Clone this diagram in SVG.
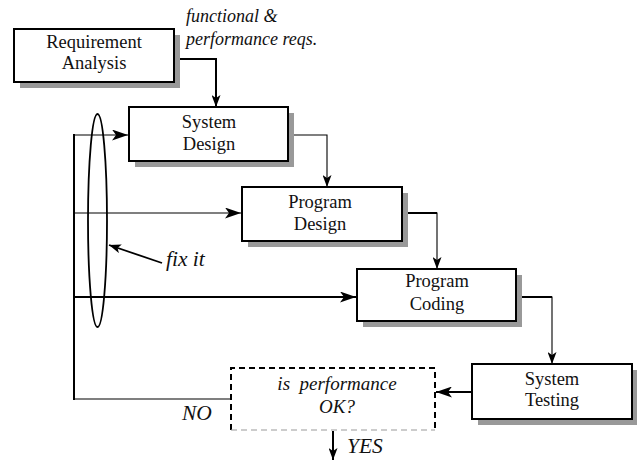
<svg xmlns="http://www.w3.org/2000/svg" width="637" height="461" viewBox="0 0 637 461" font-family="Liberation Serif, Times New Roman, serif">
  <style>
    .box { fill: #ffffff; stroke: #000000; stroke-width: 2; }
    .shadow { fill: #999999; stroke: none; }
    .label { font-size: 18.5px; fill: #111111; text-anchor: middle; }
    .note { font-style: italic; font-size: 18px; fill: #111111; }
    .big { font-size: 21.5px; }
    .thin { fill: none; stroke: #000000; stroke-width: 1.1; }
    .thick { fill: none; stroke: #000000; stroke-width: 2; }
  </style>
  <defs>
    <marker id="head" viewBox="0 0 12 9" refX="12" refY="4.5" markerWidth="12" markerHeight="9" markerUnits="userSpaceOnUse" orient="auto">
      <path d="M0,0 L12,4.5 L0,9 L3,4.5 Z" fill="#000000"/>
    </marker>
    <marker id="headBig" viewBox="0 0 16 11" refX="16" refY="5.5" markerWidth="16" markerHeight="11" markerUnits="userSpaceOnUse" orient="auto">
      <path d="M0,0 L16,5.5 L0,11 L4,5.5 Z" fill="#000000"/>
    </marker>
  </defs>

  <!-- flow and feedback connectors -->
  <g id="connectors">
    <polyline class="thick" points="174,59 216,59 216,107" marker-end="url(#head)"/>
    <polyline class="thin" points="288,135 327,135 327,187" marker-end="url(#head)"/>
    <polyline class="thin" points="402,213 437,213 437,269" marker-end="url(#head)"/>
    <polyline class="thick" points="402,213 437,213"/>
    <polyline class="thin" points="516,297 552,297 552,364" marker-end="url(#head)"/>
    <polyline class="thick" points="516,297 552,297"/>
    <line class="thick" x1="472" y1="392" x2="436" y2="392" marker-end="url(#headBig)"/>
    <line class="thick" x1="333" y1="431" x2="333" y2="460" marker-end="url(#head)"/>

    <!-- feedback loop on the left -->
    <polyline class="thin" points="231,399 74,399"/>
    <line class="thick" x1="74" y1="134" x2="74" y2="400"/>
    <line class="thin" x1="74" y1="135" x2="128" y2="135" marker-end="url(#headBig)"/>
    <line class="thin" x1="74" y1="213" x2="241" y2="213" marker-end="url(#headBig)"/>
    <line class="thick" x1="74" y1="297" x2="356" y2="297" marker-end="url(#headBig)"/>
    <ellipse cx="97.5" cy="220.5" rx="9.5" ry="106.5" fill="none" stroke="#000000" stroke-width="1.8"/>
    <line class="thick" x1="162" y1="263" x2="109" y2="245" marker-end="url(#head)" style="stroke-width:1.8"/>
  </g>

  <g id="requirement-analysis">
    <rect class="shadow" x="20" y="35" width="160" height="53"/>
    <rect class="box" x="14" y="29" width="160" height="53"/>
    <text class="label" x="94" y="48">Requirement</text>
    <text class="label" x="94" y="69">Analysis</text>
  </g>

  <g id="reqs-note">
    <text class="note" x="186" y="22">functional &amp;</text>
    <text class="note" x="186" y="45">performance reqs.</text>
  </g>

  <g id="system-design">
    <rect class="shadow" x="135" y="113" width="159" height="54"/>
    <rect class="box" x="129" y="107" width="159" height="54"/>
    <text class="label" x="209" y="128">System</text>
    <text class="label" x="209" y="150">Design</text>
  </g>

  <g id="program-design">
    <rect class="shadow" x="248" y="193" width="160" height="54"/>
    <rect class="box" x="242" y="187" width="160" height="54"/>
    <text class="label" x="320" y="208">Program</text>
    <text class="label" x="320" y="230">Design</text>
  </g>

  <g id="program-coding">
    <rect class="shadow" x="363" y="275" width="159" height="52"/>
    <rect class="box" x="357" y="269" width="159" height="52"/>
    <text class="label" x="437" y="287">Program</text>
    <text class="label" x="437" y="310">Coding</text>
  </g>

  <g id="system-testing">
    <rect class="shadow" x="478" y="370" width="160" height="55"/>
    <rect class="box" x="472" y="364" width="160" height="55"/>
    <text class="label" x="552" y="385">System</text>
    <text class="label" x="552" y="406">Testing</text>
  </g>

  <g id="performance-check">
    <rect x="231" y="368" width="204" height="62" fill="#ffffff" stroke="none"/>
    <polyline points="231,430 231,368 435,368 435,430" fill="none" stroke="#000000" stroke-width="2" stroke-dasharray="6,4"/>
    <line x1="231" y1="430" x2="435" y2="430" stroke="#999999" stroke-width="1.2" stroke-dasharray="6,4"/>
    <text class="note" x="337" y="390" text-anchor="middle" style="font-size:19px" xml:space="preserve">is  performance</text>
    <text class="note" x="337" y="413" text-anchor="middle" style="font-size:19px">OK?</text>
  </g>

  <g id="loop-labels">
    <text class="note big" x="166" y="266">fix it</text>
    <text class="note big" x="182" y="420">NO</text>
    <text class="note big" x="347" y="453">YES</text>
  </g>
</svg>
